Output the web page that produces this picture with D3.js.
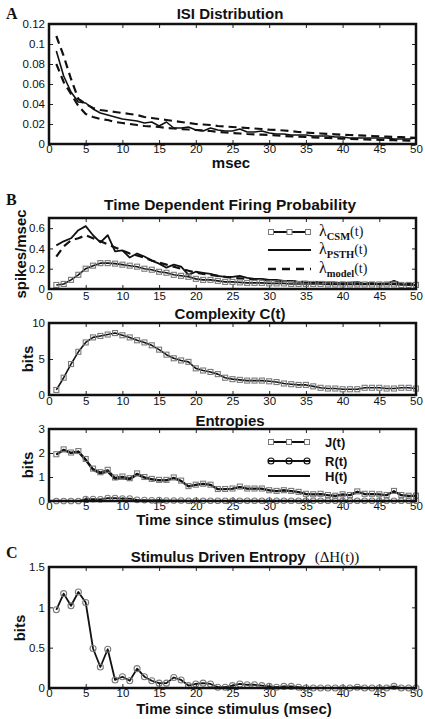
<!DOCTYPE html>
<html><head><meta charset="utf-8">
<script src="https://cdn.jsdelivr.net/npm/d3@7"></script>
<style>
body{margin:0;background:#fff;}
svg{display:block;}
</style></head>
<body>
<svg id="chart" width="425" height="719"></svg>
<script>
// ---------------- DATA ----------------
const times = d3.range(1, 51); // msec 1..50
const xTicks = [0,5,10,15,20,25,30,35,40,45,50];

// Panel A: ISI distribution
const isiEmpirical = [0.093,0.068,0.052,0.042,0.041,0.035,0.031,0.029,0.027,0.025,
  0.024,0.023,0.021,0.022,0.018,0.022,0.016,0.016,0.017,0.014,
  0.013,0.016,0.014,0.013,0.013,0.015,0.012,0.012,0.013,0.011,
  0.010,0.010,0.009,0.009,0.009,0.008,0.008,0.008,0.007,0.007,
  0.006,0.006,0.006,0.006,0.006,0.006,0.005,0.005,0.005,0.006];
const isiUpper = [0.108,0.088,0.065,0.045,0.040,0.036,0.034,0.033,0.032,0.031,
  0.030,0.029,0.027,0.026,0.025,0.024,0.023,0.022,0.021,0.020,
  0.0195,0.019,0.018,0.0175,0.017,0.0165,0.016,0.0155,0.015,0.0143,
  0.014,0.0135,0.013,0.012,0.0115,0.011,0.0105,0.010,0.0097,0.0093,
  0.009,0.0087,0.0083,0.008,0.0077,0.0074,0.0071,0.0068,0.0065,0.0062];
const isiLower = [0.080,0.062,0.050,0.038,0.030,0.027,0.025,0.024,0.022,0.021,
  0.020,0.019,0.018,0.0175,0.017,0.016,0.0155,0.015,0.0145,0.014,
  0.0135,0.013,0.012,0.0115,0.011,0.0105,0.010,0.0097,0.0093,0.009,
  0.0085,0.008,0.0077,0.0073,0.007,0.0067,0.0063,0.006,0.0057,0.0054,
  0.0051,0.0048,0.0046,0.0044,0.0042,0.004,0.0038,0.0036,0.0034,0.0032];
const isiYTicks = [0,0.02,0.04,0.06,0.08,0.1,0.12];

// Panel B1: firing probability
const lambdaCSM = [0.04,0.05,0.09,0.14,0.20,0.23,0.255,0.255,0.25,0.24,
  0.23,0.22,0.20,0.19,0.17,0.16,0.14,0.13,0.12,0.10,
  0.09,0.09,0.08,0.07,0.07,0.065,0.06,0.06,0.06,0.055,
  0.055,0.055,0.05,0.05,0.05,0.05,0.05,0.045,0.045,0.045,
  0.045,0.045,0.045,0.045,0.045,0.045,0.045,0.04,0.04,0.04];
const lambdaPSTH = [0.43,0.47,0.50,0.58,0.62,0.53,0.46,0.53,0.37,0.38,
  0.31,0.35,0.32,0.28,0.25,0.21,0.24,0.22,0.14,0.17,
  0.16,0.15,0.13,0.12,0.12,0.13,0.11,0.10,0.10,0.09,
  0.09,0.08,0.08,0.07,0.07,0.06,0.07,0.06,0.06,0.06,
  0.06,0.07,0.05,0.06,0.05,0.05,0.08,0.05,0.04,0.04];
const lambdaModel = [0.32,0.42,0.48,0.50,0.53,0.50,0.47,0.44,0.41,0.38,
  0.35,0.33,0.31,0.28,0.26,0.24,0.22,0.20,0.18,0.16,
  0.15,0.14,0.13,0.12,0.11,0.105,0.10,0.095,0.09,0.085,
  0.08,0.078,0.075,0.072,0.07,0.068,0.066,0.064,0.062,0.06,
  0.058,0.057,0.056,0.055,0.054,0.053,0.052,0.051,0.05,0.05];
const firingYTicks = [0,0.2,0.4,0.6];

// Panel B2: complexity
const complexity = [0.7,2.4,4.3,6.0,7.3,8.0,8.2,8.4,8.6,8.3,
  8.0,7.6,7.3,6.9,6.3,5.6,5.1,4.8,4.6,3.7,
  3.4,3.2,2.9,2.4,2.2,2.1,2.0,2.0,2.0,1.9,
  1.8,1.6,1.5,1.4,1.4,1.2,1.0,0.9,0.9,0.8,
  0.8,0.8,1.0,1.0,1.0,0.9,0.9,1.0,1.0,0.9];
const complexityYTicks = [0,5,10];

// Panel B3: entropies
const entropyJ = [1.95,2.15,2.02,2.08,1.75,1.35,1.20,1.30,0.98,1.02,
  0.95,1.15,1.00,0.92,0.88,0.88,0.98,0.85,0.62,0.68,
  0.72,0.68,0.50,0.50,0.52,0.60,0.52,0.52,0.52,0.45,
  0.42,0.45,0.42,0.38,0.30,0.28,0.30,0.25,0.22,0.28,
  0.25,0.40,0.30,0.30,0.28,0.25,0.42,0.25,0.22,0.22];
const entropyR = [0.0,0.0,0.0,0.0,0.08,0.08,0.07,0.12,0.12,0.10,
  0.10,0.05,0.04,0.03,0.04,0.02,0.02,0.02,0.01,0.01,
  0.01,0.01,0.01,0.01,0.01,0.01,0.01,0.01,0.01,0.01,
  0.01,0.01,0.01,0.01,0.01,0.01,0.01,0.01,0.01,0.01,
  0.01,0.01,0.01,0.01,0.01,0.01,0.01,0.01,0.01,0.01];
const entropyH = [1.93,2.12,2.00,2.05,1.70,1.30,1.15,1.22,0.92,0.95,
  0.90,1.10,0.97,0.90,0.86,0.86,0.95,0.83,0.61,0.67,
  0.71,0.67,0.49,0.49,0.51,0.58,0.51,0.51,0.51,0.44,
  0.41,0.44,0.41,0.37,0.29,0.27,0.29,0.24,0.21,0.27,
  0.24,0.38,0.29,0.29,0.27,0.24,0.40,0.24,0.21,0.21];
const entropyYTicks = [0,1,2,3];

// Panel C: stimulus driven entropy
const deltaH = [0.97,1.17,1.02,1.19,1.06,0.49,0.26,0.48,0.10,0.14,
  0.09,0.24,0.14,0.09,0.06,0.06,0.13,0.10,0.03,0.05,
  0.06,0.05,0.01,0.01,0.03,0.05,0.04,0.04,0.03,0.02,
  0.01,0.02,0.02,0.01,0.0,0.0,0.0,0.0,0.0,0.0,
  0.0,0.01,0.0,0.0,0.0,0.0,0.02,0.0,0.0,0.0];
const deltaYTicks = [0,0.5,1,1.5];

// ---------------- DRAWING ----------------
const svg = d3.select("#chart");
const X0 = 49, X1 = 416;
const x = d3.scaleLinear().domain([0,50]).range([X0, X1]);
const SANS = "'Liberation Sans', Arial, sans-serif";
const SERIF = "'Liberation Serif', 'Times New Roman', serif";
const MARK = "#7a7a7a";

function panel(top, bottom, ydom, yticks, fmt, xPad) {
  const y = d3.scaleLinear().domain(ydom).range([bottom, top]);
  const g = svg.append("g");
  const bx = g.append("g").attr("transform", `translate(0,${bottom})`)
    .call(d3.axisBottom(x).tickValues(xTicks).tickSize(-4).tickPadding(xPad).tickFormat(d3.format("d")));
  const tx = g.append("g").attr("transform", `translate(0,${top})`)
    .call(d3.axisTop(x).tickValues(xTicks).tickSize(-4).tickFormat(""));
  const ly = g.append("g").attr("transform", `translate(${X0},0)`)
    .call(d3.axisLeft(y).tickValues(yticks).tickSize(-4).tickPadding(4).tickFormat(fmt));
  const ry = g.append("g").attr("transform", `translate(${X1},0)`)
    .call(d3.axisRight(y).tickValues(yticks).tickSize(-4).tickFormat(""));
  [bx,tx,ly,ry].forEach(a => {
    a.select(".domain").remove();
    a.selectAll(".tick line").attr("stroke","#222").attr("stroke-width",1);
    a.selectAll("text").attr("font-family", SANS).attr("font-size", 11.5).attr("fill","#111");
  });
  const plot = g.append("g");
  g.append("rect").attr("x", X0).attr("y", top).attr("width", X1-X0).attr("height", bottom-top)
    .attr("fill","none").attr("stroke","#111").attr("stroke-width",2.5);
  return {g, plot, y};
}

function drawLine(p, vals, opts) {
  const line = d3.line().x((d,i)=>x(times[i])).y(d=>p.y(d));
  p.plot.append("path").datum(vals).attr("d", line)
    .attr("fill","none").attr("stroke", opts.color||"#111")
    .attr("stroke-width", opts.width||1.8)
    .attr("stroke-dasharray", opts.dash||null)
    .attr("stroke-linejoin","round");
}
function drawSquares(p, vals, s) {
  p.plot.selectAll(null).data(vals).enter().append("rect")
    .attr("x",(d,i)=>x(times[i])-s/2).attr("y",d=>p.y(d)-s/2)
    .attr("width",s).attr("height",s)
    .attr("fill","none").attr("stroke",MARK).attr("stroke-width",1.1);
}
function drawCircles(p, vals, r) {
  p.plot.selectAll(null).data(vals).enter().append("circle")
    .attr("cx",(d,i)=>x(times[i])).attr("cy",d=>p.y(d)).attr("r",r)
    .attr("fill","none").attr("stroke",MARK).attr("stroke-width",1.1);
}
function title(txt, yy, size) {
  return svg.append("text").attr("x", 230).attr("y", yy).attr("text-anchor","middle")
    .attr("font-family", SANS).attr("font-weight","bold").attr("font-size", size||15)
    .attr("fill","#111").text(txt);
}
function ylabel(txt, cx, cy) {
  svg.append("text").attr("transform",`translate(${cx},${cy}) rotate(-90)`)
    .attr("text-anchor","middle").attr("font-family",SANS).attr("font-weight","bold")
    .attr("font-size",15).attr("fill","#111").text(txt);
}
function letter(txt, yy) {
  svg.append("text").attr("x",6).attr("y",yy).attr("font-family",SERIF)
    .attr("font-weight","bold").attr("font-size",16).attr("fill","#111").text(txt);
}

// ---- Panel A ----
letter("A", 19);
title("ISI Distribution", 19);
const pA = panel(24, 144, [0,0.12], isiYTicks, d => d===0 ? "0" : String(+d.toFixed(2)), 1);
drawLine(pA, isiUpper, {dash:"8,5", width:2.2});
drawLine(pA, isiLower, {dash:"8,5", width:2.2});
drawLine(pA, isiEmpirical, {width:1.6});
svg.append("text").attr("x",231).attr("y",168).attr("text-anchor","middle")
  .attr("font-family",SANS).attr("font-weight","bold").attr("font-size",15).attr("fill","#111").text("msec");

// ---- Panel B1 ----
letter("B", 205);
title("Time Dependent Firing Probability", 210, 15.5);
const pB1 = panel(218, 289, [0,0.7], firingYTicks, d => d===0 ? "0" : String(+d.toFixed(1)), 3);
drawLine(pB1, lambdaModel, {dash:"8,5", width:2.2});
drawLine(pB1, lambdaPSTH, {width:1.8});
drawLine(pB1, lambdaCSM, {width:1.6});
drawSquares(pB1, lambdaCSM, 5);
ylabel("spikes/msec", 26, 254);

// legend B1
const legB1 = [
  {sub:"CSM", y:232, kind:"sq"},
  {sub:"PSTH", y:250, kind:"solid"},
  {sub:"model", y:269, kind:"dash"}
];
legB1.forEach(e => {
  const gl = svg.append("g");
  gl.append("line").attr("x1",268).attr("x2",311).attr("y1",e.y).attr("y2",e.y)
    .attr("stroke","#111").attr("stroke-width", e.kind==="dash"?2.5:1.8)
    .attr("stroke-dasharray", e.kind==="dash"?"8,6":null);
  if (e.kind==="sq") [271,289.5,308].forEach(cx => gl.append("rect").attr("x",cx-2.5).attr("y",e.y-2.5)
    .attr("width",5).attr("height",5).attr("fill","#fff").attr("stroke",MARK).attr("stroke-width",1));
  const t = gl.append("text").attr("x",319).attr("y",e.y+4).attr("font-family",SERIF).attr("fill","#111");
  t.append("tspan").attr("font-size",16).text("λ");
  t.append("tspan").attr("font-size",10.5).attr("font-weight","bold").attr("dy",4).text(e.sub);
  t.append("tspan").attr("font-size",14).attr("dy",-4).text("(t)");
});

// ---- Panel B2 ----
title("Complexity C(t)", 319);
const pB2 = panel(323, 395, [0,10], complexityYTicks, d3.format("d"), 2);
drawLine(pB2, complexity, {width:1.6});
drawSquares(pB2, complexity, 5);
ylabel("bits", 33, 359);

// ---- Panel B3 ----
title("Entropies", 426);
const pB3 = panel(429, 501, [0,3], entropyYTicks, d3.format("d"), 1);
drawLine(pB3, entropyR, {width:1.6});
drawCircles(pB3, entropyR, 2.8);
drawLine(pB3, entropyH, {width:2.2});
drawLine(pB3, entropyJ, {width:1.4});
drawSquares(pB3, entropyJ, 5);
ylabel("bits", 33, 465);
svg.append("text").attr("x",234).attr("y",525).attr("text-anchor","middle")
  .attr("font-family",SANS).attr("font-weight","bold").attr("font-size",15).attr("fill","#111")
  .text("Time since stimulus (msec)");

const legB3 = [
  {name:"J(t)", y:442, kind:"sq"},
  {name:"R(t)", y:461, kind:"ci"},
  {name:"H(t)", y:476, kind:"solid"}
];
legB3.forEach(e => {
  const gl = svg.append("g");
  gl.append("line").attr("x1",268).attr("x2",310).attr("y1",e.y).attr("y2",e.y)
    .attr("stroke","#111").attr("stroke-width",2);
  if (e.kind==="sq") [271,289,307].forEach(cx => gl.append("rect").attr("x",cx-2.5).attr("y",e.y-2.5)
    .attr("width",5).attr("height",5).attr("fill","#fff").attr("stroke",MARK).attr("stroke-width",1));
  if (e.kind==="ci") [271,289,307].forEach(cx => gl.append("circle").attr("cx",cx).attr("cy",e.y).attr("r",3)
    .attr("fill","none").attr("stroke","#111").attr("stroke-width",1.2));
  gl.append("text").attr("x",325).attr("y",e.y+5).attr("font-family",SANS).attr("font-weight","bold")
    .attr("font-size",13).attr("fill","#111").text(e.name);
});

// ---- Panel C ----
letter("C", 558);
const tC = svg.append("text").attr("x",245).attr("y",562).attr("text-anchor","middle").attr("fill","#111");
tC.append("tspan").attr("font-family",SANS).attr("font-weight","bold").attr("font-size",15).text("Stimulus Driven Entropy");
tC.append("tspan").attr("font-family",SERIF).attr("font-size",15).attr("dx",9).text("(ΔH(t))");
const pC = panel(567, 688, [0,1.5], deltaYTicks, d => d===0 ? "0" : String(d), 1);
drawLine(pC, deltaH, {width:1.8});
drawCircles(pC, deltaH, 3);
ylabel("bits", 25, 628);
svg.append("text").attr("x",234).attr("y",714).attr("text-anchor","middle")
  .attr("font-family",SANS).attr("font-weight","bold").attr("font-size",15).attr("fill","#111")
  .text("Time since stimulus (msec)");
</script>
</body></html>
